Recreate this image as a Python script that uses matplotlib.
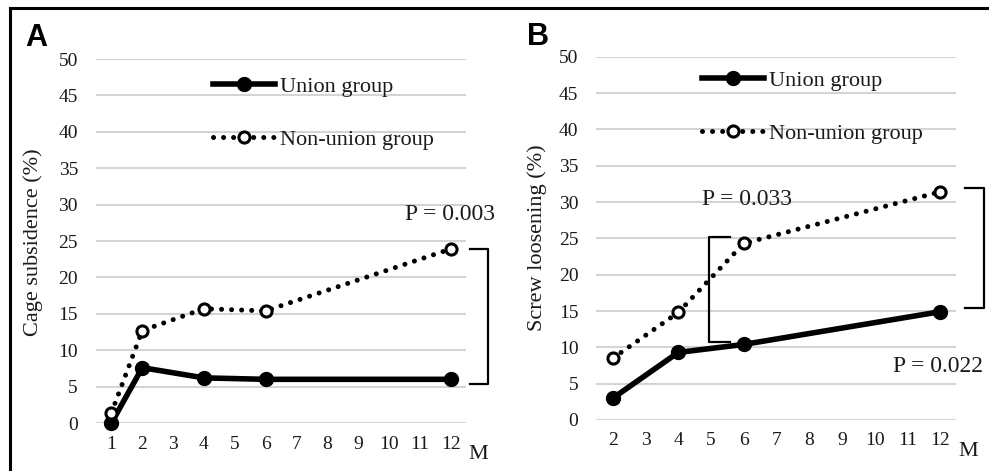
import matplotlib
matplotlib.use("Agg")
import matplotlib.pyplot as plt
from matplotlib.lines import Line2D

plt.rcParams["font.family"] = ["Liberation Serif", "DejaVu Serif"]

# panel A - cage subsidence
meses_a = [1, 2, 4, 6, 12]
union_a = [0.0, 7.6, 6.2, 6.0, 6.0]
no_union_a = [1.4, 12.7, 15.7, 15.4, 23.9]
ticks_a = list(range(1, 13))

# panel B - screw loosening
meses_b = [2, 4, 6, 12]
union_b = [3.0, 9.3, 10.4, 14.9]
no_union_b = [8.5, 14.8, 24.3, 31.4]
ticks_b = list(range(2, 13))

yticks = [0, 5, 10, 15, 20, 25, 30, 35, 40, 45, 50]

fig = plt.figure(figsize=(9.89, 4.71), dpi=100)
ax_a = fig.add_axes([0.0971, 0.1019, 0.3741, 0.7728])
ax_b = fig.add_axes([0.6031, 0.1083, 0.3640, 0.7713])


def estilo(ax, ticks, xlim):
    ax.set_xlim(*xlim)
    ax.set_ylim(0, 50)
    ax.set_xticks(ticks)
    ax.set_yticks(yticks)
    ax.yaxis.grid(True, color="#d4d4d4", linewidth=1.5)
    ax.set_axisbelow(True)
    for s in ax.spines.values():
        s.set_visible(False)
    ax.tick_params(axis="x", length=0, pad=9, labelsize=14, labelcolor="#1a1a1a")
    ax.tick_params(axis="y", length=0, pad=13, labelsize=14, labelcolor="#1a1a1a")
    ax.text(1.032, -0.087, "M", transform=ax.transAxes, ha="center", va="center",
            fontsize=16, color="#1a1a1a")


def lineas(ax, x, u, n):
    l1, = ax.plot(x, u, color="black", linewidth=4, marker="o", markersize=10,
                  markerfacecolor="black", markeredgecolor="black", zorder=3,
                  clip_on=False, label="Union group")
    l2, = ax.plot(x, n, color="black", linewidth=3.6, linestyle=(0, (0.01, 2.0)),
                  dash_capstyle="round", marker="o", markersize=8,
                  markerfacecolor="white", markeredgecolor="black",
                  markeredgewidth=2.2, zorder=3, clip_on=False,
                  label="Non-union group")
    return l1, l2


estilo(ax_a, ticks_a, (0.5, 12.5))
estilo(ax_b, ticks_b, (1.5, 12.5))

lineas(ax_a, meses_a, union_a, no_union_a)
lineas(ax_b, meses_b, union_b, no_union_b)

for ax, pos in [(ax_a, (0.316, 0.952)), (ax_b, (0.293, 0.962))]:
    ax.legend(loc="upper left", bbox_to_anchor=pos, frameon=False, fontsize=16,
              borderpad=0, borderaxespad=0, handlelength=2.8, handletextpad=0.2,
              labelspacing=1.45, labelcolor="#1a1a1a")

# corchetes de significancia
brk = dict(color="black", linewidth=1.6, clip_on=False)
ax_a.plot([12.62, 13.2, 13.2, 12.62], [23.9, 23.9, 5.4, 5.4], **brk)
ax_a.text(10.51, 28.6, "P = 0.003", fontsize=17, va="center", ha="left", color="#1a1a1a")

ax_b.plot([12.77, 13.35, 13.35, 12.77], [31.9, 31.9, 15.4, 15.4], **brk)
ax_b.text(10.55, 7.3, "P = 0.022", fontsize=17, va="center", ha="left", color="#1a1a1a")

ax_b.plot([5.58, 4.94, 4.94, 5.58], [25.2, 25.2, 10.7, 10.7], **brk)
ax_b.text(4.73, 30.3, "P = 0.033", fontsize=17, va="center", ha="left", color="#1a1a1a")

fig.text(33 / 989, 1 - 242 / 471, "Cage subsidence (%)", rotation=90, ha="center",
         va="center", fontsize=16, color="#1a1a1a")
fig.text(537 / 989, 1 - 238 / 471, "Screw loosening (%)", rotation=90, ha="center",
         va="center", fontsize=16, color="#1a1a1a")

fig.text(0.0253, 0.919, "A", fontsize=22, fontweight="bold", family="Liberation Sans",
         va="center", ha="left")
fig.text(0.533, 0.921, "B", fontsize=22, fontweight="bold", family="Liberation Sans",
         va="center", ha="left")

# marco
fig.add_artist(Line2D([10 / 989, 10 / 989], [0, 1 - 8 / 471], color="black", linewidth=2.2))
fig.add_artist(Line2D([10 / 989, 1], [1 - 8 / 471, 1 - 8 / 471], color="black", linewidth=2.2))

plt.savefig("out.png", dpi=100)
